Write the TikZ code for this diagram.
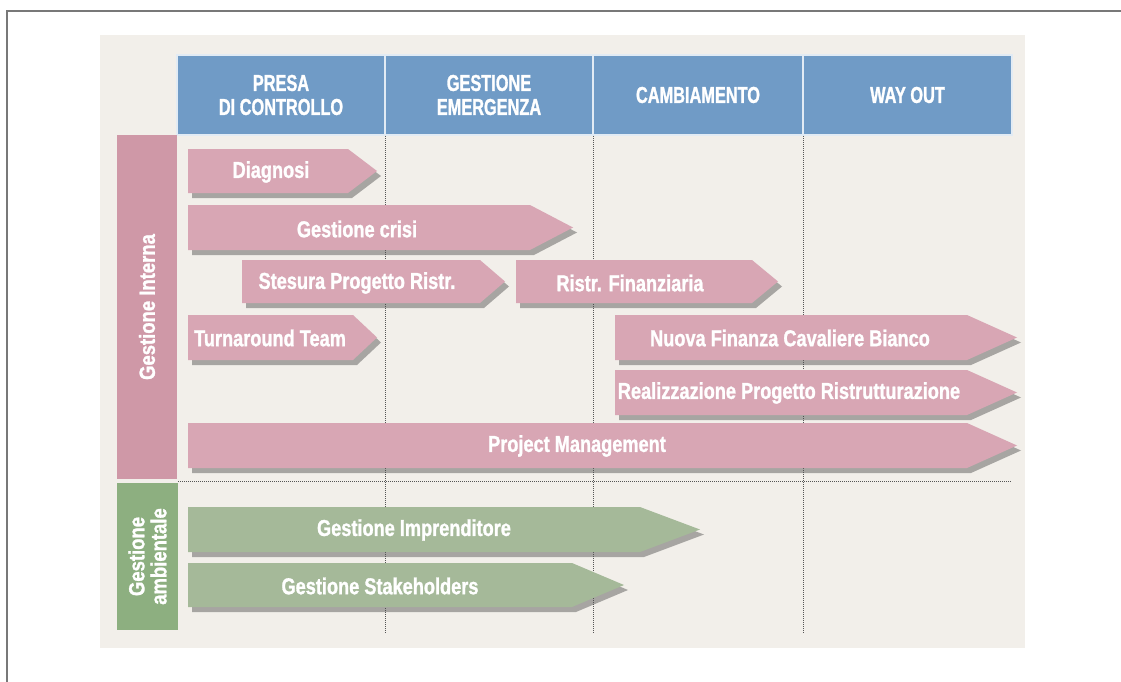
\documentclass[tikz,border=0pt]{standalone}
\usepackage{fontspec}
\usetikzlibrary{shadows}
\newfontfamily\hfont{Liberation Sans}[FakeStretch=0.71, FakeBold=1.2]
\newfontfamily\afont{Liberation Sans}[FakeStretch=0.79, FakeBold=1.2]
\newfontfamily\lfont{Liberation Sans}[FakeStretch=0.84, FakeBold=1.2]
\definecolor{bgbeige}{RGB}{242,239,234}
\definecolor{hblue}{RGB}{112,155,198}
\definecolor{apink}{RGB}{216,166,180}
\definecolor{barpink}{RGB}{207,152,167}
\definecolor{agreen}{RGB}{165,185,153}
\definecolor{bargreen}{RGB}{141,175,128}
\definecolor{dotgray}{RGB}{85,85,85}
\definecolor{framegray}{RGB}{120,120,120}
\tikzset{
  hcell/.style={fill=hblue, draw=white!80!hblue, line width=1.2pt, text=white,
    font=\hfont\bfseries\fontsize{23}{24}\selectfont, align=center, inner sep=0pt,
    minimum height=80pt},
  ashadow/.style={drop shadow={shadow xshift=4pt, shadow yshift=-5pt, opacity=0.45, fill=black!70}},
  parrow/.style={fill=apink, ashadow},
  garrow/.style={fill=agreen, ashadow},
  atext/.style={text=white, font=\afont\bfseries\fontsize{23}{24}\selectfont, inner sep=0pt},
  bartext/.style={text=white, font=\lfont\bfseries\fontsize{22}{22}\selectfont, inner sep=0pt, align=center, rotate=90},
  gridline/.style={dotgray, line width=0.9pt, dash pattern=on 1pt off 1pt},
}
% style, left x, body end x, tip x, top y, bottom y
\newcommand\tlarrow[6]{%
  \path[#1] (#2,#5) -- (#3,#5) -- (#4,{(#5+#6)/2}) -- (#3,#6) -- (#2,#6) -- cycle;}
\begin{document}
\begin{tikzpicture}[x=1pt,y=-1pt]
\useasboundingbox (0,0) rectangle (1121,682);
\fill[white] (0,0) rectangle (1121,682);
% outer frame
\draw[framegray, line width=2pt] (7,682) -- (7,11) -- (1121,11);
% background
\fill[bgbeige] (100,35) rectangle (1025,648);
% header
\node[hcell, minimum width=208pt] (h1) at (281,95) {PRESA\\DI CONTROLLO};
\node[hcell, minimum width=208pt] (h2) at (489,95) {GESTIONE\\EMERGENZA};
\node[hcell, minimum width=210pt] (h3) at (698,95) {CAMBIAMENTO};
\node[hcell, minimum width=209pt] (h4) at (907.5,95) {WAY OUT};
% grid lines
\draw[gridline] (385,136) -- (385,633);
\draw[gridline] (593,136) -- (593,633);
\draw[gridline] (803,136) -- (803,633);
\draw[gridline] (178,481) -- (1012,481);
% row labels
\node[fill=barpink, minimum width=60pt, minimum height=344pt, inner sep=0pt] (rowi) at (147,307) {};
\node[bartext] (rowitext) at (147,307) {Gestione Interna};
\node[fill=bargreen, minimum width=61pt, minimum height=147pt, inner sep=0pt] (rowa) at (147.5,556.5) {};
\node[bartext] (rowatext) at (147.5,556.5) {Gestione\\ambientale};
% pink arrows
\tlarrow{parrow}{188}{348}{377}{149}{193}
\node[atext] (diag) at (271,172) {Diagnosi};
\tlarrow{parrow}{188}{530}{573}{205}{250}
\node[atext] (crisi) at (357,229) {Gestione crisi};
\tlarrow{parrow}{242}{480}{505}{260}{303}
\node[atext] (stes) at (357,283) {Stesura Progetto Ristr.};
\tlarrow{parrow}{516}{752}{778}{260}{303}
\node[atext] (ristr) at (630,283) {Ristr. Finanziaria};
\tlarrow{parrow}{188}{353}{377}{315}{360}
\node[atext] (turn) at (270,338) {Turnaround Team};
\tlarrow{parrow}{615}{967}{1017}{315}{360}
\node[atext] (nuova) at (790,338) {Nuova Finanza Cavaliere Bianco};
\tlarrow{parrow}{615}{967}{1017}{370}{415}
\node[atext] (real) at (789,393) {Realizzazione Progetto Ristrutturazione};
\tlarrow{parrow}{188}{967}{1017}{423}{468}
\node[atext] (pm) at (577,446) {Project Management};
% green arrows
\tlarrow{garrow}{188}{640}{700}{507}{552}
\node[atext] (impr) at (414,530) {Gestione Imprenditore};
\tlarrow{garrow}{188}{572}{624}{563}{607}
\node[atext] (stake) at (380,586) {Gestione Stakeholders};
\end{tikzpicture}
\end{document}
